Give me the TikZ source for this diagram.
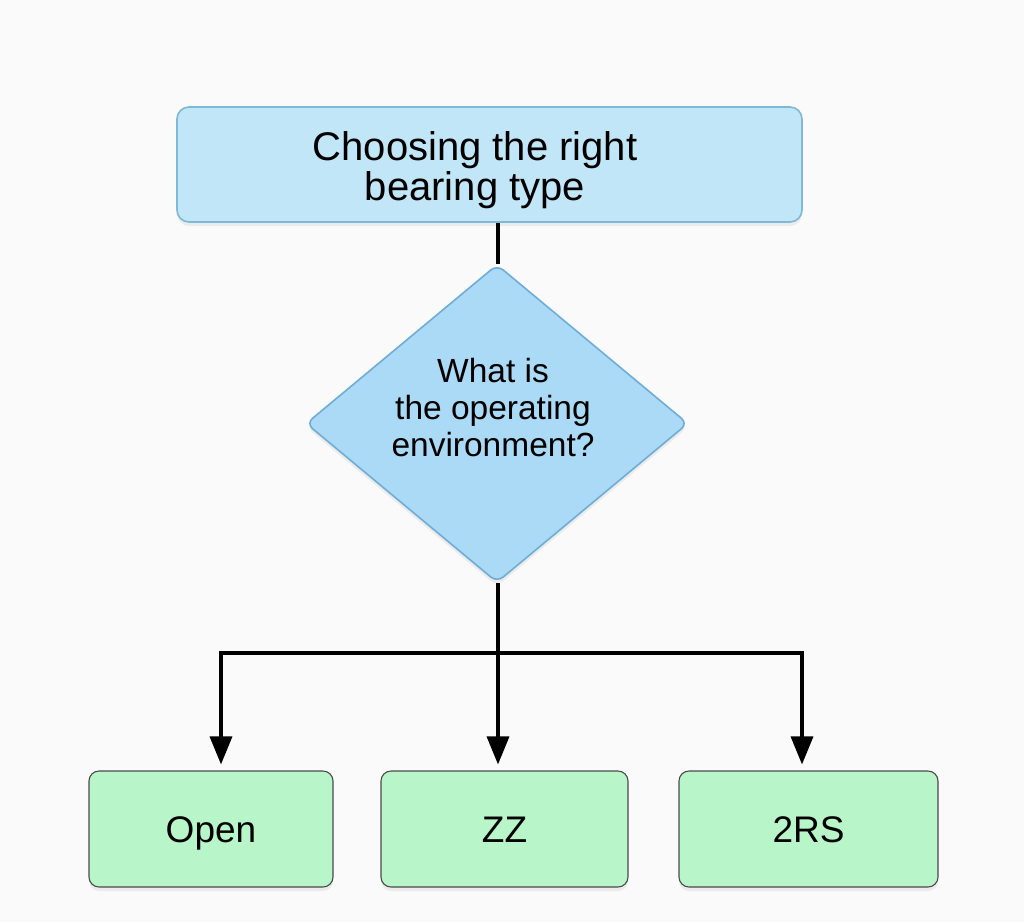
\documentclass[tikz,border=0pt]{standalone}
\usepackage{fontspec}
\setmainfont{Liberation Sans}
\usepackage{tikz}
\usetikzlibrary{positioning}
\usetikzlibrary{shapes.geometric,shadows,arrows.meta}

\definecolor{pagebg}{HTML}{FAFAFA}
\definecolor{titlefill}{HTML}{C0E6F8}
\definecolor{titleline}{HTML}{80B8D8}
\definecolor{askfill}{HTML}{AADAF5}
\definecolor{askline}{HTML}{6EADD8}
\definecolor{typefill}{HTML}{B8F5C8}
\definecolor{typeline}{HTML}{4A4A4A}

\begin{document}
\begin{tikzpicture}[x=1pt, y=-1pt,
    titlebox/.style={rectangle, rounded corners=12pt, draw=titleline, line width=1.6pt,
      fill=titlefill,
      drop shadow={opacity=0.12, shadow xshift=0pt, shadow yshift=-4pt}},
    titletext/.style={align=center, font=\fontsize{40}{40}\selectfont},
    askbox/.style={diamond, aspect=1.2, inner sep=0pt, rounded corners=8pt, draw=askline,
      line width=1.6pt, fill=askfill,
      drop shadow={opacity=0.12, shadow xshift=0pt, shadow yshift=-4pt}},
    asktext/.style={align=center, font=\fontsize{33.5}{37}\selectfont},
    typebox/.style={rectangle, rounded corners=10pt, draw=typeline, line width=1.1pt,
      fill=typefill, minimum height=116pt, text height=27pt, text depth=0pt,
      font=\fontsize{37}{40}\selectfont,
      drop shadow={opacity=0.12, shadow xshift=0pt, shadow yshift=-4pt}},
    conn/.style={line width=3.4pt, black},
    connarr/.style={conn, -{Triangle[width=22pt,length=28pt]}, shorten >=6pt}]
      \fill[pagebg] (0,0) rectangle (1024,922);
      % boxes
      \node[titlebox, minimum width=625pt, minimum height=115pt] (title) at (489.5,164.5) {};
      \node[titletext] (titleq) at (475,170) {Choosing the right\\bearing type};
      \node[askbox, minimum width=382pt, minimum height=318pt] (env) at (497,423.5) {};
      \node[asktext] (envq) at (493,408) {What is\\ the operating\\ environment?};
      \node[typebox, minimum width=244pt] (open) at (211,829) {Open};
      \node[typebox, minimum width=247pt] (zz) at (504.5,829) {ZZ};
      \node[typebox, minimum width=259pt] (twors) at (808.5,829) {2RS};
      % connectors
      \coordinate (split) at (498,653);
      \draw[conn] (split |- title.south) -- (split |- env.north);
      \draw[conn] (split |- env.south) -- (split);
      \draw[connarr] (split) -| ([xshift=10pt]open.north);
      \draw[connarr] (split) -- ([xshift=-6.5pt]zz.north);
      \draw[connarr] (split) -| ([xshift=-6.5pt]twors.north);
\end{tikzpicture}
\end{document}
